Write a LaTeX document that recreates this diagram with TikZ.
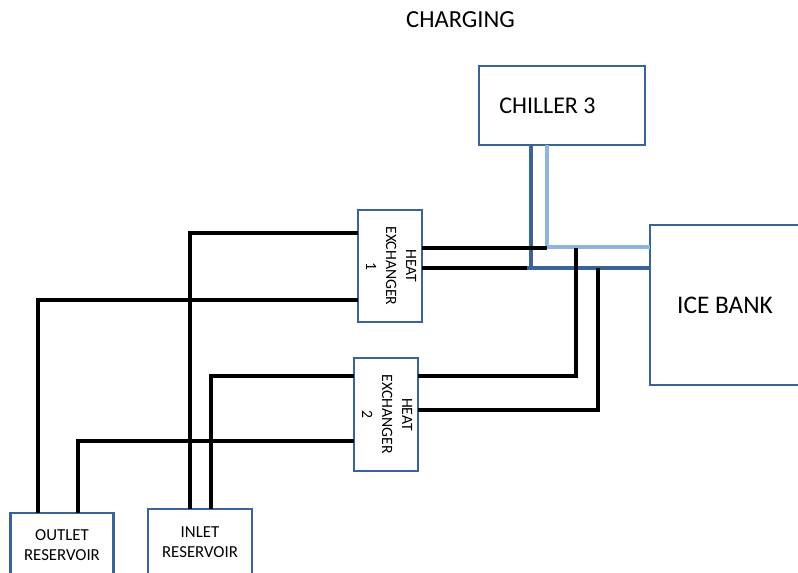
\documentclass[tikz,border=0pt]{standalone}
\usepackage{fontspec}
\setmainfont{Carlito}
\definecolor{boxblue}{HTML}{3A6398}
\definecolor{coldblue}{HTML}{8DB4E2}
\tikzset{
  unitbox/.style={draw=boxblue,line width=2pt,fill=white,inner sep=0pt,outer sep=0pt,align=center},
  pipe/.style={line width=2.9pt,black},
  supply/.style={line width=3pt,boxblue},
  return/.style={line width=3pt,coldblue},
}
\newcommand{\hxlabel}[1]{\rotatebox{-90}{\fontsize{11.8pt}{15pt}\selectfont\begin{tabular}{@{}c@{}}HEAT\\EXCHANGER\\#1\end{tabular}}}

\begin{document}
\begin{tikzpicture}[x=0.75pt,y=-0.75pt]
\useasboundingbox (0,0) rectangle (798,573);
\node[inner sep=0pt,font=\fontsize{18.4pt}{20pt}\selectfont] (title) at (460.5,20) {CHARGING};
\node[unitbox,minimum width=124.5pt,minimum height=59.25pt,label={[xshift=-10.9pt,font=\fontsize{18pt}{20pt}\selectfont]center:CHILLER 3}] (chiller) at (562,105.5) {};
\node[unitbox,minimum width=112.5pt,minimum height=120pt,font=\fontsize{19pt}{21pt}\selectfont] (icebank) at (725,305) {\raisebox{-4pt}{ICE BANK}};
\node[unitbox,minimum width=48pt,minimum height=84pt] (hxa) at (390,266) {\hxlabel{1}};
\node[unitbox,minimum width=48pt,minimum height=84.75pt] (hxb) at (386,414.5) {\hxlabel{2}};
\node[unitbox,minimum width=77.25pt,minimum height=48pt,font=\fontsize{12.6pt}{15pt}\selectfont] (outlet) at (62,545) {OUTLET\\RESERVOIR};
\node[unitbox,minimum width=78pt,minimum height=49.5pt,font=\fontsize{12.6pt}{15pt}\selectfont] (inlet) at (200,542) {INLET\\RESERVOIR};
\coordinate (tee) at (527,268);
\coordinate (teecold) at (547,248);
\coordinate (chilltap) at (576,248);
\coordinate (banktap) at (598,268);

\draw[supply] ([xshift=-23.25pt]chiller.south) -- ([xshift=-23.25pt]chiller.south |- tee);
\draw[supply] (tee) -- ([yshift=27.75pt]icebank.west);
\draw[return] ([xshift=-11.25pt]chiller.south) |- ([yshift=43.5pt]icebank.west);

\draw[pipe] ([yshift=13.5pt]hxa.east) -- (teecold);
\draw[pipe] ([yshift=-1.5pt]hxa.east) -- (tee);
\draw[pipe] (chilltap) |- ([yshift=28.9pt]hxb.east);
\draw[pipe] (banktap) |- ([yshift=3.1pt]hxb.east);
\draw[pipe] ([yshift=24.75pt]hxa.west) -| ([xshift=-7.5pt]inlet.north);
\draw[pipe] ([yshift=-25.5pt]hxa.west) -| ([xshift=-18pt]outlet.north);
\draw[pipe] ([yshift=28.9pt]hxb.west) -| ([xshift=8.25pt]inlet.north);
\draw[pipe] ([yshift=-19.9pt]hxb.west) -| ([xshift=12pt]outlet.north);
\end{tikzpicture}
\end{document}
